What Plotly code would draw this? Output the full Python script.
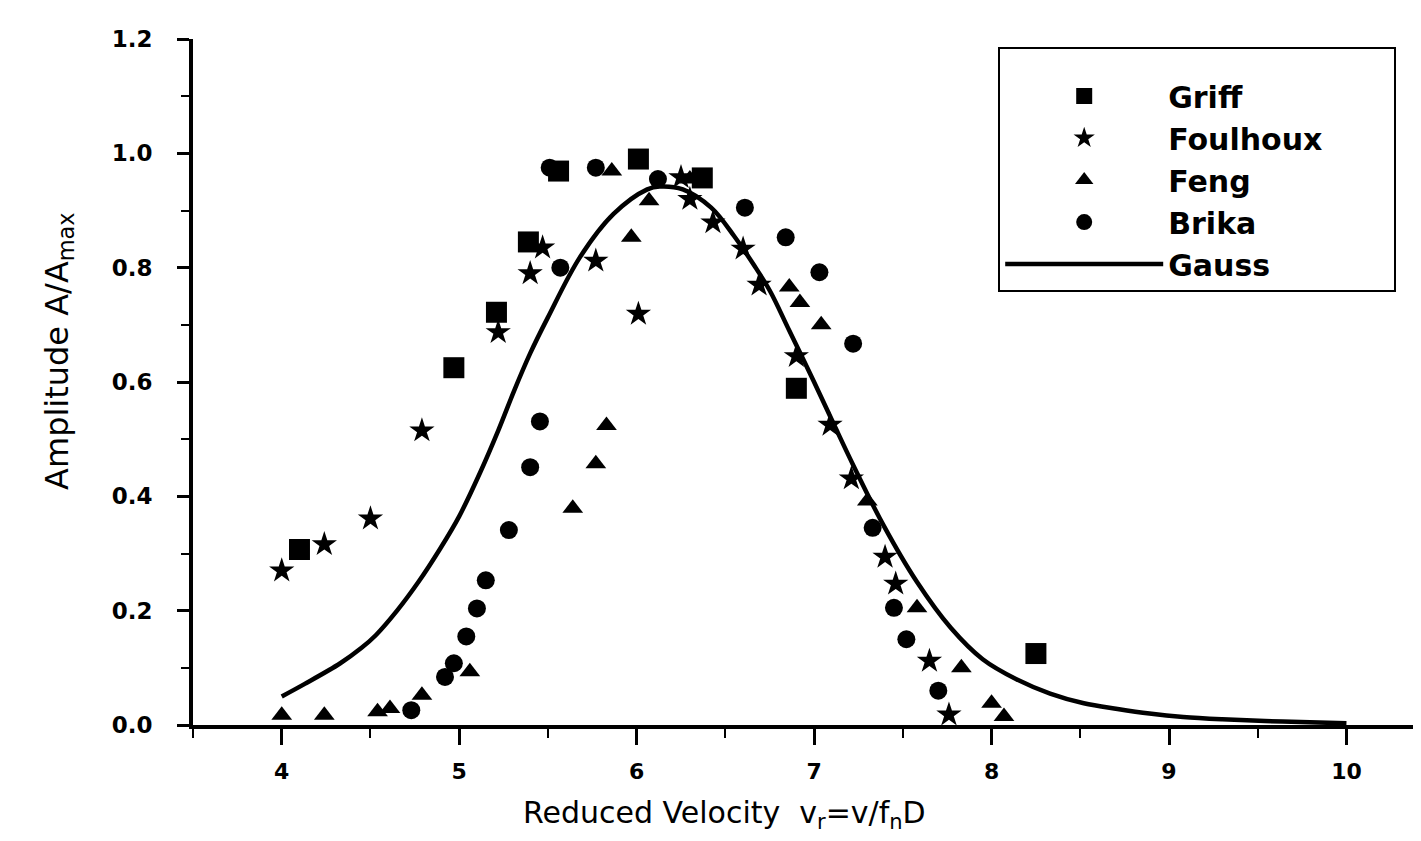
import plotly.graph_objects as go

# ---- data ----
griff_x = [4.10, 4.97, 5.21, 5.39, 5.56, 6.01, 6.37, 6.90, 8.25]
griff_y = [0.307, 0.625, 0.722, 0.845, 0.969, 0.990, 0.957, 0.589, 0.125]

foulhoux_x = [4.00, 4.24, 4.50, 4.79, 5.22, 5.40, 5.47, 5.77, 6.01, 6.25, 6.30,
              6.43, 6.60, 6.69, 6.90, 7.09, 7.21, 7.40, 7.46, 7.65, 7.76]
foulhoux_y = [0.270, 0.316, 0.361, 0.515, 0.687, 0.790, 0.835, 0.812, 0.719, 0.958, 0.920,
              0.879, 0.833, 0.770, 0.645, 0.525, 0.431, 0.294, 0.247, 0.112, 0.018]

feng_x = [4.00, 4.24, 4.54, 4.61, 4.79, 5.06, 5.64, 5.77, 5.83, 5.86, 5.97,
          6.07, 6.30, 6.86, 6.92, 7.04, 7.30, 7.58, 7.83, 8.00, 8.07]
feng_y = [0.017, 0.017, 0.023, 0.029, 0.052, 0.093, 0.379, 0.457, 0.524, 0.969, 0.853,
          0.917, 0.955, 0.766, 0.739, 0.700, 0.392, 0.205, 0.100, 0.038, 0.015]

brika_x = [4.73, 4.92, 4.97, 5.04, 5.10, 5.15, 5.28, 5.40, 5.455, 5.51, 5.57,
           5.77, 6.12, 6.61, 6.84, 7.03, 7.22, 7.33, 7.45, 7.52, 7.70]
brika_y = [0.026, 0.084, 0.108, 0.155, 0.204, 0.253, 0.341, 0.451, 0.531, 0.975, 0.800,
           0.975, 0.955, 0.905, 0.853, 0.792, 0.667, 0.345, 0.205, 0.150, 0.060]

gauss_x = [4.00, 4.13, 4.33, 4.45, 4.53, 4.65, 4.77, 4.89, 5.00, 5.12, 5.22, 5.31,
           5.40, 5.50, 5.68, 5.87, 6.06, 6.13, 6.26, 6.42, 6.55, 6.66, 6.75, 6.86,
           7.00, 7.11, 7.22, 7.39, 7.58, 7.77, 7.95, 8.14, 8.33, 8.52, 8.71, 8.89,
           9.08, 9.30, 9.64, 10.00]
gauss_y = [0.050, 0.072, 0.108, 0.135, 0.157, 0.200, 0.250, 0.307, 0.365, 0.443, 0.515, 0.585,
           0.650, 0.713, 0.818, 0.894, 0.937, 0.942, 0.937, 0.905, 0.855, 0.805, 0.760, 0.690,
           0.600, 0.527, 0.455, 0.350, 0.250, 0.170, 0.115, 0.080, 0.055, 0.038, 0.028, 0.020,
           0.014, 0.010, 0.006, 0.003]

x_ticks = [4, 5, 6, 7, 8, 9, 10]
y_ticks = [0.0, 0.2, 0.4, 0.6, 0.8, 1.0, 1.2]

FONT = "DejaVu Sans"
NB = "\u00a0"

fig = go.Figure()
fig.add_trace(go.Scatter(x=griff_x, y=griff_y, mode="markers", name="<b>Griff</b>",
                         marker=dict(symbol="square", size=21, color="black"), cliponaxis=False))
fig.add_trace(go.Scatter(x=foulhoux_x, y=foulhoux_y, mode="markers",
                         name="<b>Foulhoux</b>" + NB * 7,
                         marker=dict(symbol="star", size=19, color="black"), cliponaxis=False))
fig.add_trace(go.Scatter(x=feng_x, y=feng_y, mode="markers", name="<b>Feng</b>",
                         marker=dict(symbol="triangle-up", size=18, color="black"), cliponaxis=False))
fig.add_trace(go.Scatter(x=brika_x, y=brika_y, mode="markers", name="<b>Brika</b>",
                         marker=dict(symbol="circle", size=18, color="black"), cliponaxis=False))
fig.add_trace(go.Scatter(x=gauss_x, y=gauss_y, mode="lines", name="<b>Gauss</b>",
                         line=dict(color="black", width=4.5, shape="spline"), cliponaxis=False))

fig.update_layout(
    width=1405, height=825,
    paper_bgcolor="white", plot_bgcolor="white",
    margin=dict(l=185, r=0, t=31, b=108),
    font=dict(family=FONT, color="black"),
    legend=dict(x=0.66, y=0.988, xanchor="left", yanchor="top",
                bordercolor="black", borderwidth=2, bgcolor="white",
                font=dict(family=FONT, size=30, color="black"),
                title=dict(text=" ", font=dict(size=16)),
                itemwidth=158, tracegroupgap=0),
    annotations=[
        dict(text="Amplitude A/A<sub>max</sub>", xref="paper", yref="paper",
             x=-0.11, y=0.545, xanchor="center", yanchor="middle", textangle=-90,
             showarrow=False, font=dict(family=FONT, size=32, color="black")),
        dict(text="Reduced Velocity  v<sub>r</sub>=v/f<sub>n</sub>D", xref="paper", yref="paper",
             x=0.4357, y=-0.131, xanchor="center", yanchor="middle",
             showarrow=False, font=dict(family=FONT, size=30, color="black")),
    ],
)

fig.update_xaxes(
    range=[3.5, 10.375], tickmode="array", tickvals=x_ticks,
    ticktext=["<b>%d</b>" % v for v in x_ticks],
    tickfont=dict(family=FONT, size=22, color="black"),
    ticks="outside", ticklen=16, tickwidth=3, tickcolor="black",
    minor=dict(dtick=0.5, tick0=3.5, ticks="outside", ticklen=9, tickwidth=2, tickcolor="black"),
    showline=True, linewidth=4, linecolor="black",
    showgrid=False, zeroline=False, automargin=False,
    ticklabelstandoff=8,
)
fig.update_yaxes(
    range=[0, 1.2], tickmode="array", tickvals=y_ticks,
    ticktext=["<b>%.1f</b>" % v for v in y_ticks],
    tickfont=dict(family=FONT, size=23, color="black"),
    ticks="outside", ticklen=12, tickwidth=3, tickcolor="black",
    minor=dict(dtick=0.1, tick0=0, ticks="outside", ticklen=8, tickwidth=2, tickcolor="black"),
    showline=True, linewidth=4, linecolor="black",
    showgrid=False, zeroline=False, automargin=False,
    ticklabelstandoff=20,
)

fig.write_html("out.html")
